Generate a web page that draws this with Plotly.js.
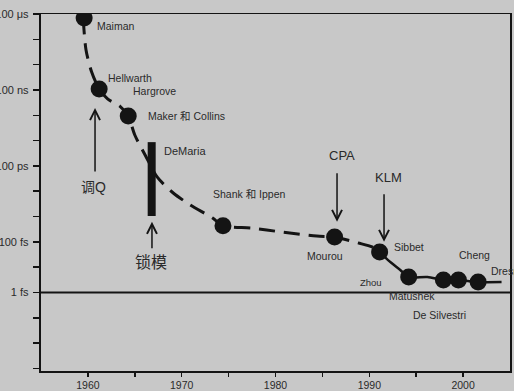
<!DOCTYPE html>
<html><head><meta charset="utf-8">
<script src="https://cdn.plot.ly/plotly-3.0.1.min.js"></script>
<style>html,body{margin:0;padding:0;background:#c8c8c8;}#chart{width:514px;height:391px;}</style>
</head><body><div id="chart"></div>
<script>
// Milestones: year and pulse duration (seconds)
var pointNames = ["Maiman","Hellwarth","Maker","Shank","Mourou","Sibbet","Zhou","Matushek","De Silvestri","Cheng"];
var pointYears = [1959.6, 1961.2, 1964.3, 1974.4, 1986.3, 1991.1, 1994.2, 1997.9, 1999.5, 2001.6];
var pointDurations = [6.9e-5, 1.1e-7, 9.3e-9, 4.3e-13, 1.55e-13, 4.0e-14, 4.1e-15, 3.1e-15, 3.1e-15, 2.6e-15];

// Trend curve (dashed part, then solid part)
var dashedYears = [1959.5, 1959.8, 1960.4, 1961.2, 1962.1, 1963.4, 1964.3, 1965.0, 1966.1, 1967.4, 1969.1, 1970.9, 1973.3, 1974.4, 1977.5, 1980.5, 1984.4, 1986.3, 1988.8, 1990.3, 1991.1];
var dashedDurations = [6.9e-5, 3.8e-6, 5.1e-7, 1.1e-7, 4.4e-8, 2.3e-8, 9.3e-9, 1.66e-9, 2.7e-10, 3.6e-11, 8.5e-12, 2.9e-12, 8.7e-13, 4.3e-13, 3.5e-13, 2.5e-13, 1.7e-13, 1.55e-13, 9.1e-14, 6.3e-14, 4.0e-14];
var solidYears = [1991.1, 1992.0, 1993.3, 1994.2, 1996.2, 1997.9, 1999.5, 2001.6, 2004.1];
var solidDurations = [4.0e-14, 1.9e-14, 7.8e-15, 4.1e-15, 4.1e-15, 3.1e-15, 3.1e-15, 2.6e-15, 2.6e-15];

// DeMaria mode-locking range
var demariaYear = 1966.8;
var demariaRange = [8.7e-10, 1.05e-12];

// Reference line
var oneFs = 1e-15;

// Axis ticks
var xTickVals = [1960, 1965, 1970, 1975, 1980, 1985, 1990, 1995, 2000];
var xTickText = ["1960", "", "1970", "", "1980", "", "1990", "", "2000"];
var yTickVals = [1e-18,1e-17,1e-16,1e-15,1e-14,1e-13,1e-12,1e-11,1e-10,1e-9,1e-8,1e-7,1e-6,1e-5,1e-4];
var yTickText = ["","","","1 fs","","100 fs","","","100 ps","","","100 ns","","","100 μs"];

// Text labels
var labelTexts = ["Maiman","Hellwarth","Hargrove","Maker 和 Collins","DeMaria","Shank 和 Ippen","Mourou","Sibbet","Zhou","Matushek","De Silvestri","Cheng","Dresner"];
var labelPos = [[1963.0,-4.47],[1964.45,-6.53],[1967.05,-7.04],[1970.5,-8.03],[1970.35,-9.41],[1977.2,-11.11],[1985.3,-13.56],[1994.2,-13.2],[1990.2,-14.62],[1994.55,-15.14],[1997.5,-15.89],[2001.2,-13.52],[2002.8,-14.15]];
var calloutTexts = ["调Q","锁模","CPA","KLM"];
var calloutPos = [[1960.55,-10.83,14],[1966.7,-13.83,16],[1987.05,-9.57,13],[1992.05,-10.44,13]];
var arrowTips = [[1960.76,-7.71,65],[1966.83,-12.21,28],[1986.56,-12.21,-50],[1991.57,-13.0,-49]];

var FONT = "Liberation Sans, Arial, Noto Sans CJK SC, sans-serif";
var INK = "#141414";

var traces = [
  {x: dashedYears, y: dashedDurations, mode: "lines", line: {color: INK, width: 3, dash: "16px,9px", shape: "spline", smoothing: 0.8}, hoverinfo: "skip"},
  {x: solidYears, y: solidDurations, mode: "lines", line: {color: INK, width: 2.5, shape: "spline", smoothing: 0.8}, hoverinfo: "skip"},
  {x: [demariaYear, demariaYear], y: demariaRange, mode: "lines", line: {color: INK, width: 8}, hoverinfo: "skip"},
  {x: pointYears, y: pointDurations, text: pointNames, mode: "markers", marker: {color: INK, size: 17}, hoverinfo: "text"}
];

var annotations = [];
labelTexts.forEach(function(t, i) {
  annotations.push({x: labelPos[i][0], y: labelPos[i][1], xref: "x", yref: "y", text: t, showarrow: false,
    xanchor: t === "Dresner" ? "left" : "center", yanchor: "middle",
    font: {family: FONT, size: t === "DeMaria" ? 11 : (t === "Zhou" ? 9.5 : 10.5), color: "#2a2a2a"}});
});
calloutTexts.forEach(function(t, i) {
  annotations.push({x: calloutPos[i][0], y: calloutPos[i][1], xref: "x", yref: "y", text: t, showarrow: false,
    xanchor: "center", yanchor: "middle", font: {family: FONT, size: calloutPos[i][2], color: "#2a2a2a"}});
});
arrowTips.forEach(function(a) {
  annotations.push({x: a[0], y: a[1], xref: "x", yref: "y", text: "", showarrow: true, ax: 0, ay: a[2],
    arrowhead: 5, arrowsize: 1.3, arrowwidth: 1.5, arrowcolor: INK, standoff: 0});
});

var layout = {
  width: 514, height: 391,
  margin: {l: 41, r: 4, t: 14, b: 20},
  paper_bgcolor: "#c8c8c8", plot_bgcolor: "#c8c8c8",
  showlegend: false,
  font: {family: FONT, color: "#2a2a2a"},
  xaxis: {range: [1955, 2005], tickvals: xTickVals, ticktext: xTickText, ticks: "outside", ticklen: 4, tickwidth: 1.5,
    tickcolor: INK, showline: true, linecolor: INK, linewidth: 1.5, mirror: true, showgrid: false, zeroline: false,
    tickfont: {size: 10.5, color: "#2a2a2a"}, fixedrange: true},
  yaxis: {type: "log", range: [-18.1, -4], tickvals: yTickVals, ticktext: yTickText, ticks: "outside", ticklen: 6, tickwidth: 1.5,
    tickcolor: INK, showline: true, linecolor: INK, linewidth: 2.2, mirror: true, showgrid: false, zeroline: false,
    tickfont: {size: 11, color: "#2a2a2a"}, ticklabelstandoff: 2, fixedrange: true},
  shapes: [{type: "line", xref: "paper", x0: 0, x1: 1, yref: "y", y0: oneFs, y1: oneFs, line: {color: INK, width: 2}}],
  annotations: annotations
};

Plotly.newPlot("chart", traces, layout, {displayModeBar: false, staticPlot: true});
</script></body></html>
